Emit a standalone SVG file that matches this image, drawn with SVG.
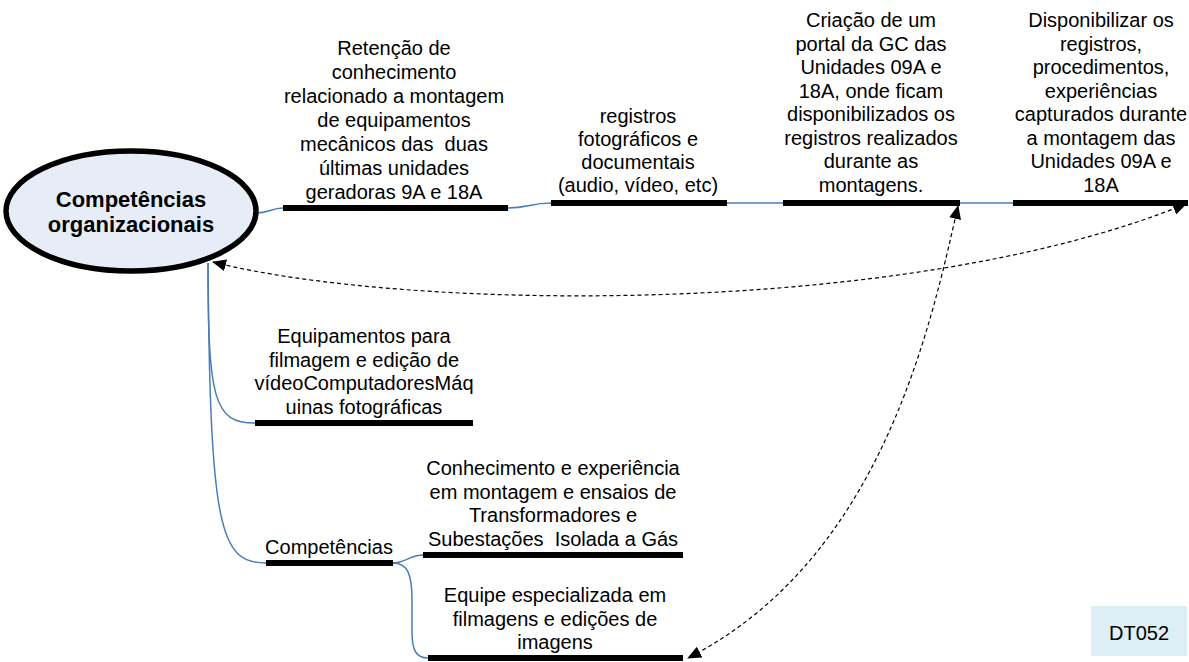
<svg xmlns="http://www.w3.org/2000/svg" width="1189" height="662" viewBox="0 0 1189 662">
<defs>
<style>
.t{font-family:"Liberation Sans",Arial,sans-serif;font-size:20px;fill:#000;text-anchor:middle}
.b{font-family:"Liberation Sans",Arial,sans-serif;font-size:22px;font-weight:bold;fill:#000;text-anchor:middle}
.bar{stroke:#000;stroke-width:6;fill:none}
.c{stroke:#4A7EBB;stroke-width:1.5;fill:none}
.d{stroke:#000;stroke-width:1.2;stroke-dasharray:4,3;fill:none;marker-start:url(#ah);marker-end:url(#ah)}
</style>
<marker id="ah" viewBox="0 0 14 12" refX="13" refY="6" markerWidth="14" markerHeight="12" markerUnits="userSpaceOnUse" orient="auto-start-reverse">
<path d="M0,0 L14,6 L0,12 Z" fill="#000"/>
</marker>
</defs>
<rect width="1189" height="662" fill="#fff"/>
<g id="connectors">
<path class="c" d="M257,213 C268,213 272,208 283,208"/>
<path class="c" d="M508,208 C528,208 531,203 551,203"/>
<path class="c" d="M727,203 L783,203"/>
<path class="c" d="M960,203 L1013,203"/>
<path class="c" d="M208,263 C208,400 214,423 255,423"/>
<path class="c" d="M208,263 C210,530 220,563 266,563"/>
<path class="c" d="M393,563 C405,563 410,555 423,555"/>
<path class="c" d="M393,563 C408,563 412,575 412,600 L412,632 C412,650 416,658 428,658"/>
<path class="d" d="M213,262 C400,310 900,320 1186,204"/>
<path class="d" d="M958,206 C930,330 880,560 688,658"/>
</g>
<g id="root">
<ellipse cx="131" cy="211" rx="125" ry="60" fill="#E6EDF7" stroke="#000" stroke-width="5.5"/>
<text class="b" x="131" y="207">Competências</text>
<text class="b" x="131" y="232">organizacionais</text>
</g>
<g id="n1">
<line class="bar" x1="283" y1="208" x2="508" y2="208"/>
<text class="t" x="394" y="55">Retenção de</text>
<text class="t" x="394" y="79">conhecimento</text>
<text class="t" x="394" y="103">relacionado a montagem</text>
<text class="t" x="394" y="127">de equipamentos</text>
<text class="t" x="394" y="151" xml:space="preserve">mecânicos das  duas</text>
<text class="t" x="394" y="175">últimas unidades</text>
<text class="t" x="394" y="199">geradoras 9A e 18A</text>
</g>
<g id="n2">
<line class="bar" x1="551" y1="203" x2="727" y2="203"/>
<text class="t" x="638" y="123">registros</text>
<text class="t" x="638" y="146">fotográficos e</text>
<text class="t" x="638" y="169">documentais</text>
<text class="t" x="638" y="192">(audio, vídeo, etc)</text>
</g>
<g id="n3">
<line class="bar" x1="783" y1="203" x2="960" y2="203"/>
<text class="t" x="871" y="27">Criação de um</text>
<text class="t" x="871" y="50.5">portal da GC das</text>
<text class="t" x="871" y="74">Unidades 09A e</text>
<text class="t" x="871" y="97.5">18A, onde ficam</text>
<text class="t" x="871" y="121">disponibilizados os</text>
<text class="t" x="871" y="144.5">registros realizados</text>
<text class="t" x="871" y="168">durante as</text>
<text class="t" x="871" y="191.5">montagens.</text>
</g>
<g id="n4">
<line class="bar" x1="1013" y1="203" x2="1188" y2="203"/>
<text class="t" x="1101" y="27">Disponibilizar os</text>
<text class="t" x="1101" y="50.5">registros,</text>
<text class="t" x="1101" y="74">procedimentos,</text>
<text class="t" x="1101" y="97.5">experiências</text>
<text class="t" x="1101" y="121">capturados durante</text>
<text class="t" x="1101" y="144.5">a montagem das</text>
<text class="t" x="1101" y="168">Unidades 09A e</text>
<text class="t" x="1101" y="191.5">18A</text>
</g>
<g id="n5">
<line class="bar" x1="255" y1="423" x2="473" y2="423"/>
<text class="t" x="364" y="343">Equipamentos para</text>
<text class="t" x="364" y="366.5">filmagem e edição de</text>
<text class="t" x="364" y="390">vídeoComputadoresMáq</text>
<text class="t" x="364" y="413.5">uinas fotográficas</text>
</g>
<g id="n6">
<line class="bar" x1="266" y1="563" x2="393" y2="563"/>
<text class="t" x="329" y="554">Competências</text>
</g>
<g id="n7">
<line class="bar" x1="423" y1="555" x2="683" y2="555"/>
<text class="t" x="553" y="475">Conhecimento e experiência</text>
<text class="t" x="553" y="498.5">em montagem e ensaios de</text>
<text class="t" x="553" y="522">Transformadores e</text>
<text class="t" x="553" y="545.5" xml:space="preserve">Subestações  Isolada a Gás</text>
</g>
<g id="n8">
<line class="bar" x1="428" y1="658" x2="683" y2="658"/>
<text class="t" x="555" y="602">Equipe especializada em</text>
<text class="t" x="555" y="625.5">filmagens e edições de</text>
<text class="t" x="555" y="649">imagens</text>
</g>
<g id="tag">
<rect x="1091" y="606" width="96" height="50" fill="#DDEFF4"/>
<text class="t" x="1139" y="640">DT052</text>
</g>
</svg>
